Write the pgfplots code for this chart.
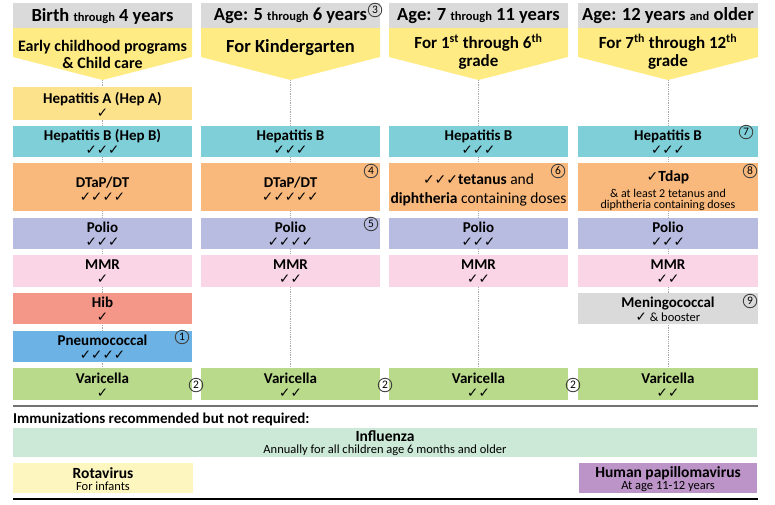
\documentclass[border=0pt]{standalone}
\usepackage{fontspec}
\setmainfont{Carlito}
\newfontfamily\sym{DejaVu Sans}
\usepackage{pgfplots}
\pgfplotsset{compat=1.18}
\definecolor{hdrgray}{RGB}{218,218,218}
\definecolor{hdryel}{RGB}{255,235,132}
\definecolor{hepa}{RGB}{253,226,140}
\definecolor{hepb}{RGB}{127,207,216}
\definecolor{dtap}{RGB}{249,185,125}
\definecolor{polio}{RGB}{183,188,224}
\definecolor{mmr}{RGB}{249,213,229}
\definecolor{hib}{RGB}{245,151,136}
\definecolor{pneumo}{RGB}{108,178,228}
\definecolor{vari}{RGB}{185,217,139}
\definecolor{mening}{RGB}{218,218,218}
\definecolor{flu}{RGB}{204,232,214}
\definecolor{rota}{RGB}{253,246,190}
\definecolor{hpv}{RGB}{188,148,200}

% box: x0 x1 y0 y1 colour
\newcommand{\bx}[5]{\addplot[fill=#5,draw=none,forget plot] coordinates {(#1,#3) (#2,#3) (#2,#4) (#1,#4)} -- cycle;}
% header: x0 x1 xc
\newcommand{\hdr}[3]{%
  \addplot[fill=hdrgray,draw=none,forget plot] coordinates {(#1,3) (#2,3) (#2,28) (#1,28)} -- cycle;
  \addplot[fill=hdryel,draw=none,forget plot] coordinates {(#1,28) (#2,28) (#2,57) (#3,80) (#1,57)} -- cycle;
  \addplot[gray!70,densely dotted,thick,forget plot] coordinates {(#3,80) (#3,368)};}
\newcommand{\num}[3]{\node[circle,draw=black!75,line width=0.9pt,inner sep=0pt,minimum size=13.5pt,font=\fontsize{11.5}{11.5}\selectfont] at (axis cs:#1,#2) {#3};}
\newcommand{\nm}{\fontsize{15}{15}\selectfont\bfseries}
\newcommand{\ck}[1]{{\sym\fontsize{13.5}{13.5}\selectfont #1}}
\newcommand{\hf}{\fontsize{18.5}{18.5}\selectfont\bfseries}
\newcommand{\sm}{\fontsize{12.5}{12.5}\selectfont}
% name and checks of a box: x, baseline of the top line
\newcommand{\lab}[4]{%
  \node[font=\nm,inner sep=0pt,anchor=base] at (axis cs:#1,#2) {#3};
  \node[inner sep=0pt,anchor=base] at (axis cs:#1,#2+14) {\ck{#4}};}

\begin{document}
\begin{tikzpicture}
\begin{axis}[scale only axis, width=775pt, height=504pt,
  xmin=0, xmax=775, ymin=0, ymax=504, y dir=reverse, hide axis]

% headers
\hdr{13}{192}{102.5}
\hdr{201}{380}{290.5}
\hdr{389}{568}{478.5}
\hdr{578}{758}{668}

% column 1
\bx{13}{192}{87}{120}{hepa}
\bx{13}{192}{126}{157}{hepb}
\bx{13}{192}{163}{211}{dtap}
\bx{13}{192}{218}{249}{polio}
\bx{13}{192}{255}{287}{mmr}
\bx{13}{192}{293}{324}{hib}
\bx{13}{192}{331}{362}{pneumo}
\bx{13}{192}{368}{400}{vari}
% column 2
\bx{201}{380}{126}{157}{hepb}
\bx{201}{380}{163}{211}{dtap}
\bx{201}{380}{218}{249}{polio}
\bx{201}{380}{255}{287}{mmr}
\bx{201}{380}{368}{400}{vari}
% column 3
\bx{389}{568}{126}{157}{hepb}
\bx{389}{568}{163}{211}{dtap}
\bx{389}{568}{218}{249}{polio}
\bx{389}{568}{255}{287}{mmr}
\bx{389}{568}{368}{400}{vari}
% column 4
\bx{578}{758}{126}{157}{hepb}
\bx{578}{758}{163}{211}{dtap}
\bx{578}{758}{218}{249}{polio}
\bx{578}{758}{255}{287}{mmr}
\bx{578}{758}{293}{324}{mening}
\bx{578}{758}{368}{400}{vari}
% recommended
\bx{13}{757}{428}{457}{flu}
\bx{13}{193}{463}{493}{rota}
\bx{579}{757}{463}{493}{hpv}
\addplot[black!55,line width=2.5pt,forget plot] coordinates {(13,406) (758,406)};
\addplot[black,line width=1.5pt,forget plot] coordinates {(13,499) (758,499)};

% header text
\node[font=\hf] at (axis cs:102.5,16) {Birth {\sm through} 4 years};
\node[font=\hf] at (axis cs:290.5,16) {Age: 5 {\sm through} 6 years};
\node[font=\hf] at (axis cs:478.5,16) {Age: 7 {\sm through} 11 years};
\node[font=\hf] at (axis cs:668,16) {Age: 12 years {\sm and} older};
\node[font=\fontsize{16}{16}\selectfont\bfseries,align=center] at (axis cs:102.5,54) {Early childhood programs\\[1pt]\& Child care};
\node[font=\fontsize{18.5}{18.5}\selectfont\bfseries] at (axis cs:290.5,48) {For Kindergarten};
\node[font=\fontsize{17}{17}\selectfont\bfseries,align=center] at (axis cs:478.5,52) {For 1\textsuperscript{st} through 6\textsuperscript{th}\\[1pt]grade};
\node[font=\fontsize{17}{17}\selectfont\bfseries,align=center] at (axis cs:668,52) {For 7\textsuperscript{th} through 12\textsuperscript{th}\\[1pt]grade};
\num{375}{10}{3}

% column 1 text
\lab{102.5}{103}{Hepatitis A (Hep A)}{✓}
\lab{102.5}{140}{Hepatitis B (Hep B)}{✓✓✓}
\lab{102.5}{187}{DTaP/DT}{✓✓✓✓}
\lab{102.5}{232}{Polio}{✓✓✓}
\lab{102.5}{269}{MMR}{✓}
\lab{102.5}{307}{Hib}{✓}
\lab{102.5}{345}{Pneumococcal}{✓✓✓✓}
\lab{102.5}{383}{Varicella}{✓}
\num{182}{337}{1}

% column 2 text
\lab{290.5}{140}{Hepatitis B}{✓✓✓}
\lab{290.5}{187}{DTaP/DT}{✓✓✓✓✓}
\lab{290.5}{232}{Polio}{✓✓✓✓}
\lab{290.5}{269}{MMR}{✓✓}
\lab{290.5}{383}{Varicella}{✓✓}
\num{371}{171}{4}
\num{371}{224}{5}

% column 3 text
\lab{478.5}{140}{Hepatitis B}{✓✓✓}
\node[font=\fontsize{15.5}{15.5}\selectfont,inner sep=0pt,anchor=base] at (axis cs:478.5,184) {{\sym\fontsize{14}{14}\selectfont ✓✓✓}\textbf{tetanus} and};
\node[font=\fontsize{15.5}{15.5}\selectfont,inner sep=0pt,anchor=base] at (axis cs:478.5,203) {\textbf{diphtheria} containing doses};
\lab{478.5}{232}{Polio}{✓✓✓}
\lab{478.5}{269}{MMR}{✓✓}
\lab{478.5}{383}{Varicella}{✓✓}
\num{558}{171}{6}

% column 4 text
\lab{668}{140}{Hepatitis B}{✓✓✓}
\num{746}{132}{7}
\node[font=\fontsize{15.5}{15.5}\selectfont\bfseries,inner sep=0pt,anchor=base] at (axis cs:668,181) {{\sym\fontsize{14}{14}\selectfont ✓}Tdap};
\node[font=\fontsize{12}{12}\selectfont,inner sep=0pt,anchor=base] at (axis cs:668,197) {\& at least 2 tetanus and};
\node[font=\fontsize{12}{12}\selectfont,inner sep=0pt,anchor=base] at (axis cs:668,208.5) {diphtheria containing doses};
\num{750}{171}{8}
\lab{668}{232}{Polio}{✓✓✓}
\lab{668}{269}{MMR}{✓✓}
\node[font=\nm,inner sep=0pt,anchor=base] at (axis cs:668,307) {Meningococcal};
\node[font=\fontsize{12.5}{12.5}\selectfont,inner sep=0pt,anchor=base] at (axis cs:668,321) {\ck{✓}\ \& booster};
\num{750}{301}{9}
\lab{668}{383}{Varicella}{✓✓}

% between columns
\num{196}{385}{2}
\num{385}{385}{2}
\num{573}{385}{2}

% recommended
\node[font=\nm,anchor=base west,inner sep=0pt] at (axis cs:13,423) {Immunizations recommended but not required:};
\node[font=\fontsize{15.5}{15.5}\selectfont\bfseries,inner sep=0pt,anchor=base] at (axis cs:385,441) {Influenza};
\node[font=\fontsize{12.5}{12.5}\selectfont,inner sep=0pt,anchor=base] at (axis cs:385,453) {Annually for all children age 6 months and older};
\node[font=\fontsize{15.5}{15.5}\selectfont\bfseries,inner sep=0pt,anchor=base] at (axis cs:103,478) {Rotavirus};
\node[font=\fontsize{12.5}{12.5}\selectfont,inner sep=0pt,anchor=base] at (axis cs:103,490) {For infants};
\node[font=\fontsize{15.5}{15.5}\selectfont\bfseries,inner sep=0pt,anchor=base] at (axis cs:668,477) {Human papillomavirus};
\node[font=\fontsize{12.5}{12.5}\selectfont,inner sep=0pt,anchor=base] at (axis cs:668,489) {At age 11-12 years};
\end{axis}
\pgfresetboundingbox
\path (current axis.south west) rectangle (current axis.north east);
\end{tikzpicture}
\end{document}
